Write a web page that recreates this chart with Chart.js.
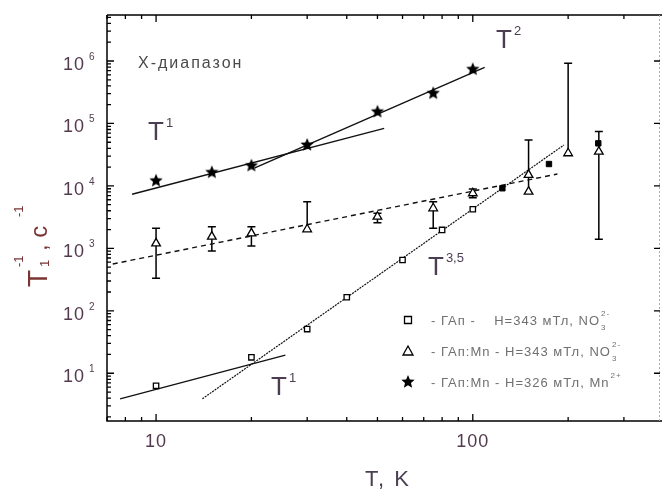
<!DOCTYPE html>
<html>
<head>
<meta charset="utf-8">
<script src="https://cdn.jsdelivr.net/npm/chart.js@4.4.1/dist/chart.umd.min.js"></script>
<style>
  html, body { margin: 0; padding: 0; background: #fff; overflow: hidden; }
</style>
</head>
<body>
<canvas id="grafico" width="668" height="490"></canvas>
<script>
// dados
const sqT = [10, 20, 30, 40, 60, 80, 100];
const sqVal = [6.3, 18, 51, 165, 650, 1970, 4230];
const sqFilledT = [124, 174, 249];
const sqFilledVal = [9160, 22400, 48000];

const triT = [10, 15, 20, 30, 50, 75, 100, 150, 150, 200, 250];
const triVal = [1200, 1540, 1740, 2020, 3210, 4380, 7620, 15000, 8080, 33300, 35300];
const triErrLow = [332, 908, 1090, 2020, 2580, 2090, 6470, 15000, 8080, 33300, 1400];
const triErrHigh = [2090, 2220, 2220, 5590, 3650, 5590, 8930, 15000, 54300, 919000, 74000];

const starT = [10, 15, 20, 30, 50, 75, 100];
const starVal = [12100, 16500, 21100, 45200, 154000, 304000, 736000];

// linhas de ajuste (pontos extremos)
const starFit1T = [8.4, 52.5], starFit1Val = [7350, 83500];
const starFit2T = [20.5, 109], starFit2Val = [19400, 793000];
const triFitT = [7.3, 185], triFitVal = [562, 15500];
const sqFit1T = [7.7, 25.6], sqFit1Val = [3.9, 19.6];
const sqFit35T = [14, 194], sqFit35Val = [3.9, 45200];

// eixos
const xMajorTicks = [10, 100];
const xTickLabels = ['10', '100'];
const xMinorTicks = [7, 8, 9, 20, 30, 40, 50, 60, 70, 80, 90, 200, 300];
const yMajorExp = [1, 2, 3, 4, 5, 6];

const legendLabels = [
  ['- ГАп -    Н=343 мТл, NO', '3', '2-'],
  ['- ГАп:Mn - Н=343 мТл, NO', '3', '2-'],
  ['- ГАп:Mn - Н=326 мТл, Mn', '', '2+']
];

const FONT = 'Arial, "Liberation Sans", sans-serif';

function pts(xs, ys) {
  return xs.map((x, i) => ({ x: x, y: ys[i] }));
}

function makeStar(r) {
  const c = document.createElement('canvas');
  const s = Math.ceil(r * 2 + 2);
  c.width = c.height = s;
  const g = c.getContext('2d');
  g.beginPath();
  for (let i = 0; i < 10; i++) {
    const rad = i % 2 ? r * 0.45 : r;
    const a = -Math.PI / 2 + i * Math.PI / 5;
    const px = s / 2 + rad * Math.cos(a), py = s / 2 + rad * Math.sin(a);
    if (i) g.lineTo(px, py); else g.moveTo(px, py);
  }
  g.closePath();
  g.fillStyle = '#000';
  g.fill();
  return c;
}
const starImg = makeStar(7);

function fitLine(xs, ys, dash, width) {
  return {
    data: pts(xs, ys),
    showLine: true,
    pointRadius: 0,
    borderColor: '#111',
    borderWidth: width || 1.4,
    borderDash: dash || [],
    fill: false
  };
}

function drawSup(ctx, base, sup, x, y, size, color) {
  ctx.fillStyle = color;
  ctx.font = size + 'px ' + FONT;
  ctx.fillText(base, x, y);
  const w = ctx.measureText(base).width;
  ctx.font = Math.round(size * 0.5) + 'px ' + FONT;
  ctx.fillText(sup, x + w + 2, y - size * 0.5);
}

const decor = {
  id: 'decor',
  beforeDatasetsDraw(chart) {
    // barras de erro
    const ctx = chart.ctx, xs = chart.scales.x, ys = chart.scales.y;
    ctx.save();
    ctx.strokeStyle = '#000';
    ctx.lineWidth = 1.5;
    triT.forEach((t, i) => {
      const px = xs.getPixelForValue(t);
      const pl = ys.getPixelForValue(triErrLow[i]);
      const ph = ys.getPixelForValue(triErrHigh[i]);
      if (Math.abs(pl - ph) < 1) return;
      ctx.beginPath();
      ctx.moveTo(px, pl); ctx.lineTo(px, ph);
      if (triErrHigh[i] !== triVal[i]) { ctx.moveTo(px - 4, ph); ctx.lineTo(px + 4, ph); }
      if (triErrLow[i] !== triVal[i]) { ctx.moveTo(px - 4, pl); ctx.lineTo(px + 4, pl); }
      ctx.stroke();
    });
    ctx.restore();
  },
  afterDraw(chart) {
    const ctx = chart.ctx, xs = chart.scales.x, ys = chart.scales.y;
    const a = chart.chartArea;
    ctx.save();

    // moldura
    ctx.strokeStyle = '#000';
    ctx.lineWidth = 1.5;
    ctx.beginPath();
    ctx.moveTo(a.left, a.top); ctx.lineTo(a.right + 2, a.top);
    ctx.moveTo(a.left, a.top); ctx.lineTo(a.left, a.bottom);
    ctx.lineTo(a.right + 2, a.bottom);
    ctx.stroke();
    ctx.save();
    ctx.strokeStyle = '#aaa';
    ctx.lineWidth = 1;
    ctx.setLineDash([2, 2]);
    ctx.beginPath();
    ctx.moveTo(a.right - 0.5, a.top); ctx.lineTo(a.right - 0.5, a.bottom);
    ctx.stroke();
    ctx.restore();

    // marcas do eixo x (para dentro)
    ctx.lineWidth = 1.3;
    ctx.beginPath();
    xMajorTicks.forEach(v => {
      const p = xs.getPixelForValue(v);
      ctx.moveTo(p, a.bottom); ctx.lineTo(p, a.bottom - 7);
      ctx.moveTo(p, a.top); ctx.lineTo(p, a.top + 7);
    });
    xMinorTicks.forEach(v => {
      const p = xs.getPixelForValue(v);
      ctx.moveTo(p, a.bottom); ctx.lineTo(p, a.bottom - 4);
      ctx.moveTo(p, a.top); ctx.lineTo(p, a.top + 4);
    });
    // marcas do eixo y
    yMajorExp.forEach(e => {
      const p = ys.getPixelForValue(Math.pow(10, e));
      ctx.moveTo(a.left, p); ctx.lineTo(a.left + 7, p);
      ctx.moveTo(a.right, p); ctx.lineTo(a.right - 6, p);
    });
    for (let e = 0; e <= 6; e++) {
      for (let m = 2; m <= 9; m++) {
        const v = m * Math.pow(10, e);
        if (v < ys.min || v > ys.max) continue;
        const p = ys.getPixelForValue(v);
        ctx.moveTo(a.left, p); ctx.lineTo(a.left + 4, p);
      }
    }
    ctx.stroke();

    // rótulos
    const lblColor = '#533a4e';
    ctx.textBaseline = 'alphabetic';
    ctx.textAlign = 'left';
    ctx.letterSpacing = '1px';
    yMajorExp.forEach(e => {
      const p = ys.getPixelForValue(Math.pow(10, e));
      ctx.font = '18px ' + FONT;
      ctx.fillStyle = lblColor;
      ctx.fillText('10', 63, p + 9);
      ctx.font = '10px ' + FONT;
      ctx.fillText(String(e), 89, p - 1);
    });
    ctx.textAlign = 'center';
    ctx.font = '18px ' + FONT;
    xMajorTicks.forEach((v, i) => {
      ctx.fillText(xTickLabels[i], xs.getPixelForValue(v), 447);
    });
    ctx.letterSpacing = '2px';
    ctx.font = '22px ' + FONT;
    ctx.fillStyle = '#4b3f52';
    ctx.fillText('T, K', 388, 486);

    // título do eixo y
    ctx.save();
    ctx.translate(47, 287);
    ctx.rotate(-Math.PI / 2);
    ctx.textAlign = 'left';
    ctx.letterSpacing = '0px';
    ctx.fillStyle = '#7a3434';
    ctx.font = '28px ' + FONT;
    ctx.fillText('T', 0, 0);
    ctx.font = '13px ' + FONT;
    ctx.fillText('1', 20, 2);
    ctx.fillText('-1', 20, -24);
    ctx.font = '24px ' + FONT;
    ctx.fillText(', c', 36, 0);
    ctx.font = '13px ' + FONT;
    ctx.fillText('-1', 70, -24);
    ctx.restore();

    // anotações
    ctx.textAlign = 'left';
    ctx.letterSpacing = '2px';
    ctx.fillStyle = '#4a4a4a';
    ctx.font = '16px ' + FONT;
    ctx.fillText('X-диапазон', 138, 68);
    ctx.letterSpacing = '0px';
    const annColor = '#4d3d52';
    drawSup(ctx, 'T', '1', 148, 140, 26, annColor);
    drawSup(ctx, 'T', '2', 496, 48, 26, annColor);
    drawSup(ctx, 'T', '3,5', 428, 275, 26, annColor);
    drawSup(ctx, 'T', '1', 271, 395, 26, annColor);

    // legenda
    const rows = [320, 351, 382];
    const mx = 408;
    ctx.strokeStyle = '#000';
    ctx.lineWidth = 1.3;
    ctx.fillStyle = '#fff';
    ctx.beginPath();
    ctx.rect(mx - 3.5, rows[0] - 3.5, 7, 7);
    ctx.fill(); ctx.stroke();
    ctx.beginPath();
    ctx.moveTo(mx, rows[1] - 5); ctx.lineTo(mx + 5, rows[1] + 4); ctx.lineTo(mx - 5, rows[1] + 4);
    ctx.closePath();
    ctx.fill(); ctx.stroke();
    ctx.drawImage(starImg, mx - starImg.width / 2, rows[2] - starImg.height / 2);

    ctx.letterSpacing = '1px';
    legendLabels.forEach((lab, i) => {
      const y = rows[i] + 5;
      ctx.fillStyle = '#707070';
      ctx.font = '13px ' + FONT;
      ctx.fillText(lab[0], 431, y);
      const w = ctx.measureText(lab[0]).width;
      ctx.font = '8px ' + FONT;
      if (lab[1]) ctx.fillText(lab[1], 431 + w + 1, y + 5);
      ctx.fillText(lab[2], 431 + w + 1, y - 9);
    });

    ctx.restore();
  }
};

const data = {
  datasets: [
    {
      data: pts(starT, starVal),
      pointStyle: starImg,
      pointRadius: 7
    },
    {
      data: pts(sqT, sqVal),
      pointStyle: 'rect',
      pointRadius: 3.8,
      borderColor: '#000',
      backgroundColor: '#fff',
      borderWidth: 1.3
    },
    {
      data: pts(sqFilledT, sqFilledVal),
      pointStyle: 'rect',
      pointRadius: 3.8,
      borderColor: '#000',
      backgroundColor: '#000',
      borderWidth: 1
    },
    {
      data: pts(triT, triVal),
      pointStyle: 'triangle',
      pointRadius: 5,
      borderColor: '#000',
      backgroundColor: '#fff',
      borderWidth: 1.3
    },
    fitLine(starFit1T, starFit1Val, [], 1.4),
    fitLine(starFit2T, starFit2Val, [], 1.4),
    fitLine(triFitT, triFitVal, [5, 4], 1.4),
    fitLine(sqFit1T, sqFit1Val, [], 1.3),
    fitLine(sqFit35T, sqFit35Val, [2, 1], 1.2)
  ]
};

const config = {
  type: 'scatter',
  data,
  options: {
    responsive: false,
    animation: false,
    events: [],
    layout: { padding: { left: 0, top: 15, right: 1, bottom: 0 } },
    plugins: { legend: { display: false }, tooltip: { enabled: false } },
    scales: {
      x: {
        type: 'logarithmic',
        min: 7,
        max: 390,
        grid: { display: false },
        border: { display: false },
        ticks: { display: false },
        afterFit: s => { s.height = 69; }
      },
      y: {
        type: 'logarithmic',
        min: 1.72,
        max: 5.45e6,
        grid: { display: false },
        border: { display: false },
        ticks: { display: false },
        afterFit: s => { s.width = 107; }
      }
    }
  },
  plugins: [decor]
};

const myChart = new Chart(document.getElementById('grafico').getContext('2d'), config);
</script>
</body>
</html>
